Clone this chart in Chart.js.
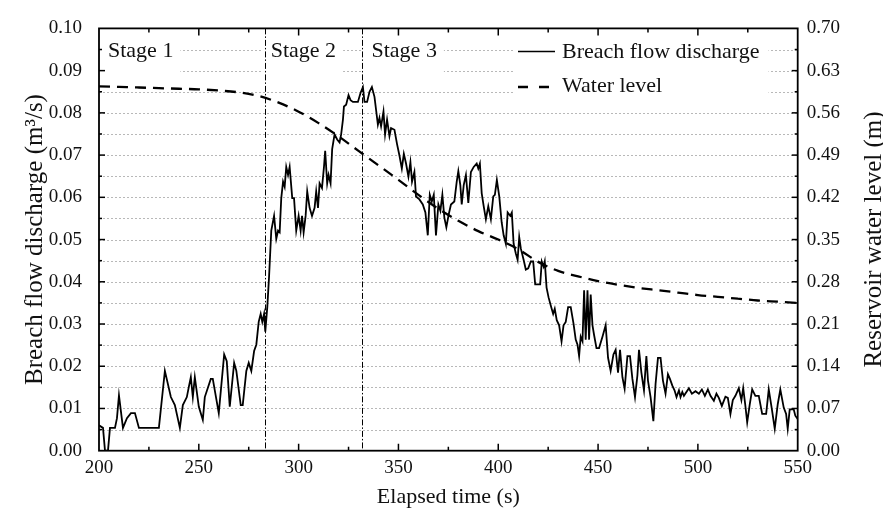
<!DOCTYPE html>
<html>
<head>
<meta charset="utf-8">
<script src="https://cdn.jsdelivr.net/npm/chart.js@4.4.0/dist/chart.umd.min.js"></script>
<style>
html,body{margin:0;padding:0;background:#fff;}
#wrap{width:883px;height:512px;position:relative;}
</style>
</head>
<body>
<div id="wrap"><canvas id="c" width="883" height="512"></canvas></div>
<script>
// ---------- DATA ----------
const timeS = [
  200,202,203,204.5,205.5,208,209,210,212,214,
  216,218,220,230,233,236,238,240.5,242,244,
  245,246,247,248,250,252,253,256,257,260,
  262.7,264,265.5,267.7,268.8,271,272,273.8,275,276.3,
  277.7,278.8,280,281,281.8,282.7,283.3,284.3,285.2,286.3,
  287.7,288.8,289.7,290.5,291.3,292.2,293,293.8,294.7,295.5,
  296.8,297.7,298.8,300,301,301.7,302.5,303.5,304.3,305.5,
  306.7,308,308.8,309.7,310.5,311.7,312.7,313.3,314.3,315,
  316,316.8,318,319.3,320.5,321.3,322.2,322.7,323.8,325,
  326,327.2,329.7,331,332.2,333,334.3,335.5,336.7,338,
  339.7,340.5,341.3,342.5,343.3,344.3,345.5,346.3,348,349.3,
  350.5,351.7,352.7,353.8,355,356,356.8,358,358.8,360.5,
  362.2,363.5,364.7,365.7,366.7,367.7,368.8,370,371,372,
  373,374,375.2,376.3,378,379.2,380,381,381.7,382.7,
  383.8,385,386.3,387.7,389.2,390,390.8,391.7,392.7,393.8,
  395,396.3,397.5,398.3,399.3,400.5,401.7,402.7,403.8,404.7,
  406,406.8,407.7,408.8,409.7,410.5,411.3,412.7,413.8,415,
  416.3,417.5,418.5,419.7,421,421.8,422.7,423.3,424.2,425.2,
  426.3,427.5,428.3,429.3,430.5,431.7,432.7,433.8,435,436.3,
  437.7,438.8,439.7,440.5,441.3,442.2,443,443.8,444.7,445.5,
  446.3,447.2,448,449.2,450.5,452.2,453.8,455,456.3,457.7,
  458.8,460,461,462.2,463.3,464.7,466,467.2,468.5,469.7,
  470.5,471.7,473,474.2,475,476.3,477.7,478.8,480,481.3,
  482.5,483.8,485,486,487.2,488.3,489.3,490.5,491.3,492.2,
  493,495.5,497,498.8,500.5,502,503.5,505,506.3,508,
  509.3,510.5,512,513.8,515,516.3,517.5,518.8,520.5,521.8,
  522.7,523.7,524.7,526,527.2,528.8,530.5,532.2,534.2,535.5,
  537,538.5,540,541.3,543,544.2,545,546,548,548.8,
  550
];
const discharge = [
  0.0060,0.0054,0.0000,0.0000,0.0054,0.0054,0.0077,0.0131,0.0054,0.0077,
  0.0089,0.0089,0.0054,0.0054,0.0189,0.0127,0.0108,0.0054,0.0108,0.0127,
  0.0151,0.0174,0.0127,0.0174,0.0104,0.0073,0.0127,0.0170,0.0170,0.0089,
  0.0228,0.0212,0.0104,0.0208,0.0189,0.0108,0.0108,0.0189,0.0208,0.0189,
  0.0236,0.0251,0.0305,0.0324,0.0305,0.0324,0.0282,0.0340,0.0413,0.0521,
  0.0556,0.0502,0.0521,0.0517,0.0598,0.0637,0.0625,0.0672,0.0653,0.0672,
  0.0598,0.0598,0.0521,0.0556,0.0521,0.0556,0.0517,0.0556,0.0614,0.0575,
  0.0556,0.0575,0.0614,0.0575,0.0633,0.0622,0.0672,0.0710,0.0633,0.0653,
  0.0633,0.0714,0.0749,0.0737,0.0730,0.0749,0.0784,0.0815,0.0819,0.0842,
  0.0830,0.0826,0.0826,0.0847,0.0861,0.0826,0.0826,0.0850,0.0861,0.0838,
  0.0772,0.0788,0.0768,0.0803,0.0749,0.0784,0.0745,0.0764,0.0760,0.0726,
  0.0699,0.0668,0.0703,0.0680,0.0649,0.0683,0.0637,0.0660,0.0602,0.0595,
  0.0583,0.0564,0.0510,0.0606,0.0590,0.0606,0.0510,0.0583,0.0568,0.0606,
  0.0552,0.0529,0.0560,0.0583,0.0590,0.0637,0.0662,0.0629,0.0583,0.0629,
  0.0653,0.0587,0.0660,0.0672,0.0680,0.0668,0.0680,0.0610,0.0579,0.0548,
  0.0579,0.0548,0.0602,0.0606,0.0641,0.0602,0.0541,0.0510,0.0490,0.0564,
  0.0556,0.0564,0.0490,0.0467,0.0452,0.0506,0.0479,0.0452,0.0429,0.0432,
  0.0448,0.0448,0.0394,0.0394,0.0394,0.0448,0.0436,0.0448,0.0386,0.0363,
  0.0344,0.0324,0.0336,0.0309,0.0297,0.0259,0.0297,0.0305,0.0340,0.0340,
  0.0301,0.0263,0.0251,0.0224,0.0270,0.0259,0.0380,0.0263,0.0380,0.0263,
  0.0370,0.0297,0.0274,0.0243,0.0243,0.0270,0.0297,0.0220,0.0189,0.0228,
  0.0239,0.0185,0.0239,0.0174,0.0147,0.0224,0.0224,0.0170,0.0127,0.0178,
  0.0239,0.0185,0.0143,0.0224,0.0166,0.0127,0.0070,0.0158,0.0220,0.0220,
  0.0166,0.0135,0.0181,0.0170,0.0154,0.0143,0.0127,0.0143,0.0127,0.0139,
  0.0130,0.0148,0.0135,0.0141,0.0135,0.0145,0.0130,0.0145,0.0130,0.0118,
  0.0135,0.0125,0.0106,0.0128,0.0125,0.0087,0.0120,0.0130,0.0148,0.0120,
  0.0148,0.0110,0.0067,0.0110,0.0145,0.0130,0.0130,0.0087,0.0087,0.0145,
  0.0100,0.0052,0.0110,0.0145,0.0102,0.0087,0.0052,0.0098,0.0098,0.0083,
  0.0075
];
const levelTime = [200,210,220,230,240,250,260,270,280,290,300,310,320,330,340,350,360,370,380,390,400,410,420,430,440,450,460,470,480,490,500,510,520,530,540,550];
const waterLevel = [0.604,0.603,0.602,0.601,0.600,0.599,0.597,0.594,0.588,0.577,0.562,0.543,0.521,0.497,0.473,0.449,0.424,0.401,0.381,0.364,0.350,0.334,0.313,0.298,0.289,0.281,0.275,0.270,0.266,0.262,0.258,0.255,0.252,0.249,0.247,0.245];

const stageBounds = [283, 331.5];
const stageNames = ['Stage 1', 'Stage 2', 'Stage 3'];
const seriesNames = ['Breach flow discharge', 'Water level'];
const xTickValues = [200,250,300,350,400,450,500,550];
const yLeftTicks = [0,0.01,0.02,0.03,0.04,0.05,0.06,0.07,0.08,0.09,0.10];
const yRightTicks = [0,0.07,0.14,0.21,0.28,0.35,0.42,0.49,0.56,0.63,0.70];
const axisTitles = {x: 'Elapsed time (s)', yLeft: 'Breach flow discharge (m\u00B3/s)', yRight: 'Reservoir water level (m)'};

// ---------- STYLE ----------
const FONT = '"Liberation Serif", "Times New Roman", serif';
const INK = '#111';

const decor = {
  id: 'decor',
  beforeDatasetsDraw(chart) {
    const {ctx, chartArea: a, scales: {x, y}} = chart;
    ctx.save();
    // dotted horizontal gridlines every half-major step
    ctx.strokeStyle = '#b8b8b8'; ctx.lineWidth = 1; ctx.setLineDash([2, 2]);
    for (let i = 1; i < 20; i++) {
      const py = Math.round(y.getPixelForValue(i * 0.005)) + 0.5;
      ctx.beginPath(); ctx.moveTo(a.left, py); ctx.lineTo(a.right, py); ctx.stroke();
    }
    ctx.setLineDash([]);
    // white label boxes
    ctx.fillStyle = '#fff';
    ctx.font = '22px ' + FONT;
    const starts = [200, stageBounds[0], stageBounds[1]];
    const offs = [9, 6, 10];
    stageNames.forEach((s, i) => {
      const tx = x.getPixelForValue(starts[i]) + offs[i];
      const w = ctx.measureText(s).width;
      ctx.fillRect(tx - 9, a.top + 1, w + 16, 52);
    });
    const lx = 518;
    const lw = ctx.measureText(seriesNames[0]).width;
    ctx.fillRect(lx - 3, a.top + 1, 44 + lw + 12, 77);
    // stage dividers (dash-dot)
    ctx.strokeStyle = '#000'; ctx.lineWidth = 1; ctx.setLineDash([6, 2, 1.5, 2]);
    stageBounds.forEach(t => {
      const px = Math.round(x.getPixelForValue(t)) + 0.5;
      ctx.beginPath(); ctx.moveTo(px, a.top); ctx.lineTo(px, a.bottom); ctx.stroke();
    });
    ctx.restore();
  },
  afterDatasetsDraw(chart) {
    const {ctx, chartArea: a, scales: {x, y, y1}} = chart;
    ctx.save();
    // inward ticks
    ctx.strokeStyle = '#000'; ctx.lineWidth = 1.5;
    for (let t = 225; t < 550; t += 25) {
      const px = x.getPixelForValue(t);
      const len = (t % 50 === 0) ? 7 : 4;
      ctx.beginPath();
      ctx.moveTo(px, a.bottom); ctx.lineTo(px, a.bottom - len);
      ctx.moveTo(px, a.top); ctx.lineTo(px, a.top + len);
      ctx.stroke();
    }
    for (let i = 1; i < 20; i++) {
      const py = y.getPixelForValue(i * 0.005);
      const len = (i % 2 === 0) ? 6 : 3;
      ctx.beginPath();
      ctx.moveTo(a.left, py); ctx.lineTo(a.left + len, py);
      ctx.stroke();
      const py2 = y1.getPixelForValue(i * 0.035);
      ctx.beginPath();
      ctx.moveTo(a.right, py2); ctx.lineTo(a.right - len, py2);
      ctx.stroke();
    }
    // frame
    ctx.lineWidth = 1.8;
    ctx.strokeRect(a.left, a.top, a.right - a.left, a.bottom - a.top);
    // stage labels
    ctx.fillStyle = INK; ctx.font = '22px ' + FONT;
    ctx.textBaseline = 'alphabetic'; ctx.textAlign = 'left';
    const starts = [200, stageBounds[0], stageBounds[1]];
    const offs = [9, 6, 10];
    stageNames.forEach((s, i) => {
      ctx.fillText(s, x.getPixelForValue(starts[i]) + offs[i], 57);
    });
    // legend
    const lx = 518;
    ctx.lineWidth = 1.7; ctx.strokeStyle = '#000';
    ctx.beginPath(); ctx.moveTo(lx, 51.5); ctx.lineTo(lx + 37, 51.5); ctx.stroke();
    ctx.lineWidth = 2.4; ctx.setLineDash([10, 11]);
    ctx.beginPath(); ctx.moveTo(lx, 87); ctx.lineTo(lx + 37, 87); ctx.stroke();
    ctx.setLineDash([]);
    ctx.fillText(seriesNames[0], lx + 44, 57.5);
    ctx.fillText(seriesNames[1], lx + 44, 92);
    // right axis title (reads bottom-to-top)
    ctx.save();
    ctx.translate(874, (a.top + a.bottom) / 2);
    ctx.rotate(-Math.PI / 2);
    ctx.textAlign = 'center'; ctx.textBaseline = 'middle';
    ctx.font = '25px ' + FONT;
    ctx.fillText(axisTitles.yRight, 0, 0);
    ctx.restore();
    ctx.restore();
  }
};

new Chart(document.getElementById('c'), {
  type: 'line',
  data: {
    datasets: [
      {
        label: seriesNames[0],
        data: timeS.map((t, i) => ({x: t, y: discharge[i]})),
        yAxisID: 'y',
        borderColor: '#000', borderWidth: 1.8,
        pointRadius: 0, tension: 0, fill: false
      },
      {
        label: seriesNames[1],
        data: levelTime.map((t, i) => ({x: t, y: waterLevel[i]})),
        yAxisID: 'y1',
        borderColor: '#000', borderWidth: 2.3, borderDash: [11, 7],
        pointRadius: 0, tension: 0.4, cubicInterpolationMode: 'monotone', fill: false
      }
    ]
  },
  options: {
    responsive: false, animation: false, devicePixelRatio: 1,
    layout: {padding: {left: 0, right: 0, top: 20, bottom: 0}},
    plugins: {legend: {display: false}, tooltip: {enabled: false}},
    scales: {
      x: {
        type: 'linear', position: 'bottom', min: 200, max: 550,
        afterBuildTicks: s => { s.ticks = xTickValues.map(v => ({value: v})); },
        ticks: {font: {family: FONT, size: 19}, color: INK, padding: 6, maxRotation: 0, autoSkip: false},
        grid: {display: false, drawTicks: false},
        border: {display: false},
        title: {display: true, text: axisTitles.x, font: {family: FONT, size: 22}, color: INK, padding: {top: 0, bottom: 2}},
        afterFit: s => { s.height = 61.3; }
      },
      y: {
        type: 'linear', position: 'left', min: 0, max: 0.1,
        afterBuildTicks: s => { s.ticks = yLeftTicks.map(v => ({value: v})); },
        ticks: {font: {family: FONT, size: 19}, color: INK, padding: 17, callback: v => v.toFixed(2), autoSkip: false},
        grid: {display: false, drawTicks: false},
        border: {display: false},
        title: {display: true, text: axisTitles.yLeft, font: {family: FONT, size: 25, lineHeight: 1.2}, color: INK, padding: {top: 20, bottom: 0}},
        afterFit: s => { s.width = 99; }
      },
      y1: {
        type: 'linear', position: 'right', min: 0, max: 0.7,
        afterBuildTicks: s => { s.ticks = yRightTicks.map(v => ({value: v})); },
        ticks: {font: {family: FONT, size: 19}, color: INK, padding: 9, callback: v => v.toFixed(2), autoSkip: false},
        grid: {display: false, drawTicks: false},
        border: {display: false},
        afterFit: s => { s.width = 85.3; }
      }
    }
  },
  plugins: [decor]
});
</script>
</body>
</html>
